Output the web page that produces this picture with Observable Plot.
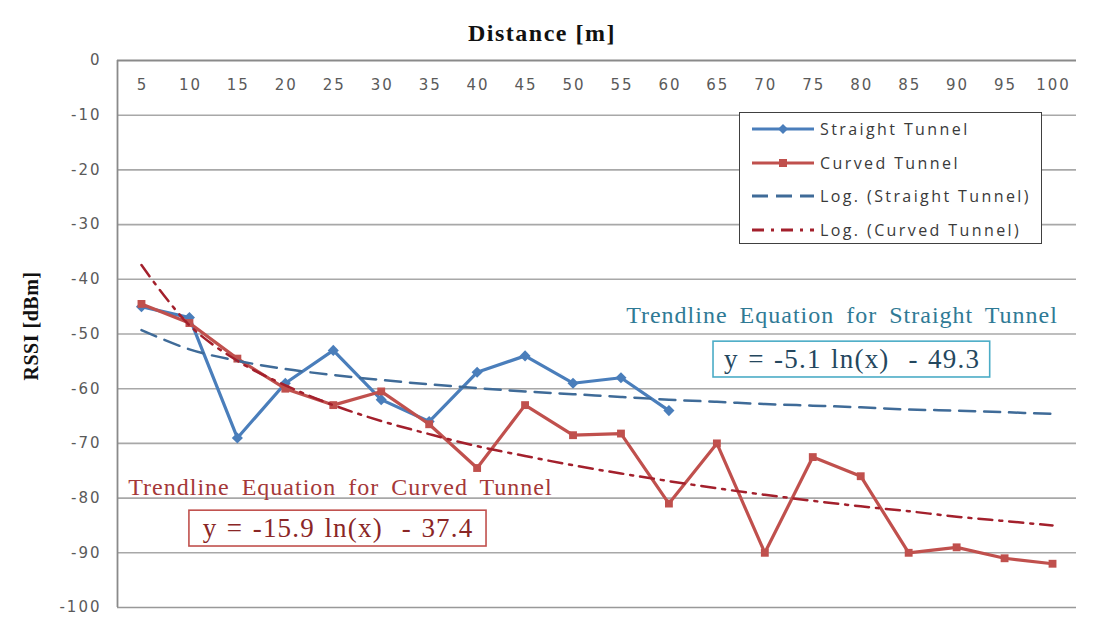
<!DOCTYPE html>
<html>
<head>
<meta charset="utf-8">
<script src="https://cdn.jsdelivr.net/npm/d3@7"></script>
<script src="https://cdn.jsdelivr.net/npm/@observablehq/plot@0.6"></script>
<style>
  html,body{margin:0;padding:0;background:#fff;}
  #wrap{position:relative;width:1102px;height:630px;overflow:hidden;}
  #wrap > svg{position:absolute;left:0;top:0;}
  #legend{position:absolute;left:739px;top:112px;width:303px;height:132px;box-sizing:border-box;border:1.5px solid #404040;background:#fff;}
  #legend .item{position:absolute;left:0;height:24px;width:100%;}
  #legend .item svg{position:absolute;left:12px;top:0;}
  #legend .item span{position:absolute;left:80px;top:0;line-height:24px;font-family:"Open Sans",sans-serif;font-size:16px;color:#3a3a3a;letter-spacing:2.4px;white-space:nowrap;}
</style>
</head>
<body>
<div id="wrap"></div>
<script>
// ---- data ----
const distances = [5,10,15,20,25,30,35,40,45,50,55,60,65,70,75,80,85,90,95,100];
const straightRSSI = [-45,-47,-69,-59,-53,-62,-66,-57,-54,-59,-58,-64];
const curvedRSSI = [-44.5,-48,-54.5,-60,-63,-60.5,-66.5,-74.5,-63,-68.5,-68.2,-81,-70,-90,-72.5,-76,-90,-89,-91,-92];
const straightTrend = [-49.3,-52.8,-54.9,-56.4,-57.5,-58.4,-59.2,-59.9,-60.5,-61.0,-61.5,-62.0,-62.4,-62.8,-63.1,-63.4,-63.8,-64.0,-64.3,-64.6];
const curvedTrend = [-37.4,-48.4,-54.9,-59.4,-63.0,-65.9,-68.3,-70.5,-72.3,-74.0,-75.5,-76.9,-78.2,-79.4,-80.5,-81.5,-82.4,-83.4,-84.2,-85.0];
const yTicks = [0,-10,-20,-30,-40,-50,-60,-70,-80,-90,-100];
const seriesNames = ["Straight Tunnel","Curved Tunnel","Log. (Straight Tunnel)","Log. (Curved Tunnel)"];
const chartTitle = "Distance [m]";
const yTitle = "RSSI [dBm]";
const trendTitles = ["Trendline Equation for Straight Tunnel","Trendline Equation for Curved Tunnel"];
const trendEquations = ["y = -5.1 ln(x)  - 49.3","y = -15.9 ln(x)  - 37.4"];

// ---- layout / style (kept apart from the data) ----
const colors = {straight:"#4a7ebb", curved:"#c0504d", straightTrend:"#3f6b98", curvedTrend:"#a3202c",
  straightNote:"#2f7a95", straightEq:"#24475e", straightBox:"#4bacc6",
  curvedNote:"#a53838", curvedEq:"#8a2626", curvedBox:"#c0504d"};
const notePos = [
  {tpos:{x:78.05,y:-46.6}, epos:{x:79.1,y:-54.7}, box:{x1:64.65,x2:93.5,y1:-51.4,y2:-57.95}},
  {tpos:{x:25.75,y:-78.1}, epos:{x:25.5,y:-85.6}, box:{x1:10.0,x2:40.98,y1:-82.3,y2:-88.85}}
];

const straight = straightRSSI.map((v,i)=>({d:distances[i], v}));
const curved = curvedRSSI.map((v,i)=>({d:distances[i], v}));
const sTrend = straightTrend.map((v,i)=>({d:distances[i], v}));
const cTrend = curvedTrend.map((v,i)=>({d:distances[i], v}));

const notes = [0,1].map(i=>({label:trendTitles[i], equation:trendEquations[i], ...notePos[i]}));
const noteStyle = [
  {note:colors.straightNote, eq:colors.straightEq, box:colors.straightBox},
  {note:colors.curvedNote, eq:colors.curvedEq, box:colors.curvedBox}
];

const serif = "Liberation Serif, Times New Roman, serif";
const sans = "DejaVu Sans, sans-serif";

const chart = Plot.plot({
  width:1102, height:630,
  marginTop:60, marginBottom:23, marginLeft:117, marginRight:26,
  x:{type:"linear", domain:[2.5,102.5], axis:null},
  y:{domain:[-100,0], axis:null},
  style:{background:"transparent", overflow:"visible"},
  marks:[
    Plot.gridY(yTicks.filter(t=>t!==0 && t!==-100), {stroke:"#a8a8a8", strokeOpacity:1, strokeWidth:1.6}),
    Plot.ruleY([-100], {stroke:"#999", strokeWidth:1.6}),
    Plot.ruleY([0], {stroke:"#8a8a8a", strokeWidth:1.8}),
    Plot.ruleX([2.5], {stroke:"#8a8a8a", strokeWidth:1.8}),
    Plot.axisY(yTicks, {anchor:"left", tickSize:0, tickPadding:16, fontSize:15, fontFamily:sans, fill:"#5a5a5a", tickFormat:d=>String(d), label:null}),
    Plot.text(distances, {x:d=>d, frameAnchor:"top", lineAnchor:"middle", dy:25, dx:1, fontSize:15, fontFamily:sans, fill:"#5a5a5a"}),
    Plot.text([chartTitle], {frameAnchor:"top", lineAnchor:"middle", textAnchor:"middle", dx:-55, dy:-27, fontSize:24, fontWeight:"bold", fontFamily:serif, fill:"#111"}),
    Plot.text([yTitle], {frameAnchor:"left", lineAnchor:"middle", textAnchor:"middle", rotate:-90, dx:-86, dy:-8, fontSize:20, fontWeight:"bold", fontFamily:serif, fill:"#111"}),
    // annotations
    Plot.rect(notes, {x1:d=>d.box.x1, x2:d=>d.box.x2, y1:d=>d.box.y1, y2:d=>d.box.y2, fill:"white", stroke:(d,i)=>noteStyle[i].box, strokeWidth:1.6}),
    Plot.text(notes, {x:d=>d.tpos.x, y:d=>d.tpos.y, text:d=>d.label, fill:(d,i)=>noteStyle[i].note, fontSize:24, fontFamily:serif}),
    Plot.text(notes, {x:d=>d.epos.x, y:d=>d.epos.y, text:d=>d.equation, fill:(d,i)=>noteStyle[i].eq, fontSize:27, fontFamily:serif}),
    // data series
    Plot.line(straight, {x:"d", y:"v", stroke:colors.straight, strokeWidth:3.2}),
    Plot.dot(straight, {x:"d", y:"v", symbol:"diamond2", r:5, fill:colors.straight, stroke:"none"}),
    Plot.line(curved, {x:"d", y:"v", stroke:colors.curved, strokeWidth:3.2}),
    Plot.dot(curved, {x:"d", y:"v", symbol:"square2", r:5, fill:colors.curved, stroke:"none"}),
    // trendlines
    Plot.line(sTrend, {x:"d", y:"v", stroke:colors.straightTrend, strokeWidth:2.5, strokeDasharray:"16,9", curve:"catmull-rom"}),
    Plot.line(cTrend, {x:"d", y:"v", stroke:colors.curvedTrend, strokeWidth:2.5, strokeDasharray:"14,7,3,7", curve:"catmull-rom"})
  ]
});
document.getElementById("wrap").appendChild(chart);

// text spacing (letter/word spacing) applied by content
chart.querySelectorAll("text").forEach(t => {
  const s = t.textContent;
  if (/^-?\d+$/.test(s)) t.style.letterSpacing = "2px";
  else if (trendTitles.includes(s)) { t.style.letterSpacing = "1px"; t.style.wordSpacing = "5px"; }
  else if (trendEquations.includes(s)) { t.style.letterSpacing = "1.2px"; t.style.wordSpacing = "1.5px"; t.style.whiteSpace = "pre"; }
  else if (s === chartTitle) t.style.letterSpacing = "1.5px";
  else if (s === yTitle) t.style.letterSpacing = "0.5px";
});

// legend
const legendSpecs = [
  {stroke:colors.straight, dash:null, marker:"diamond"},
  {stroke:colors.curved, dash:null, marker:"square"},
  {stroke:colors.straightTrend, dash:"16,8", marker:null},
  {stroke:colors.curvedTrend, dash:"12,7,3,7", marker:null}
];
const legend = document.createElement("div");
legend.id = "legend";
seriesNames.forEach((name,i)=>{
  const s = legendSpecs[i];
  const item = document.createElement("div");
  item.className = "item";
  item.style.top = (4 + i*33.5) + "px";
  let m = "";
  if (s.marker==="diamond") m = `<path d="M31,7 L36,12 L31,17 L26,12 Z" fill="${s.stroke}"/>`;
  if (s.marker==="square") m = `<rect x="27" y="8" width="8" height="8" fill="${s.stroke}"/>`;
  item.innerHTML = `<svg width="62" height="24"><line x1="0" x2="62" y1="12" y2="12" stroke="${s.stroke}" stroke-width="3" ${s.dash?`stroke-dasharray="${s.dash}"`:""}/>${m}</svg><span>${name}</span>`;
  legend.appendChild(item);
});
document.getElementById("wrap").appendChild(legend);
</script>
</body>
</html>
